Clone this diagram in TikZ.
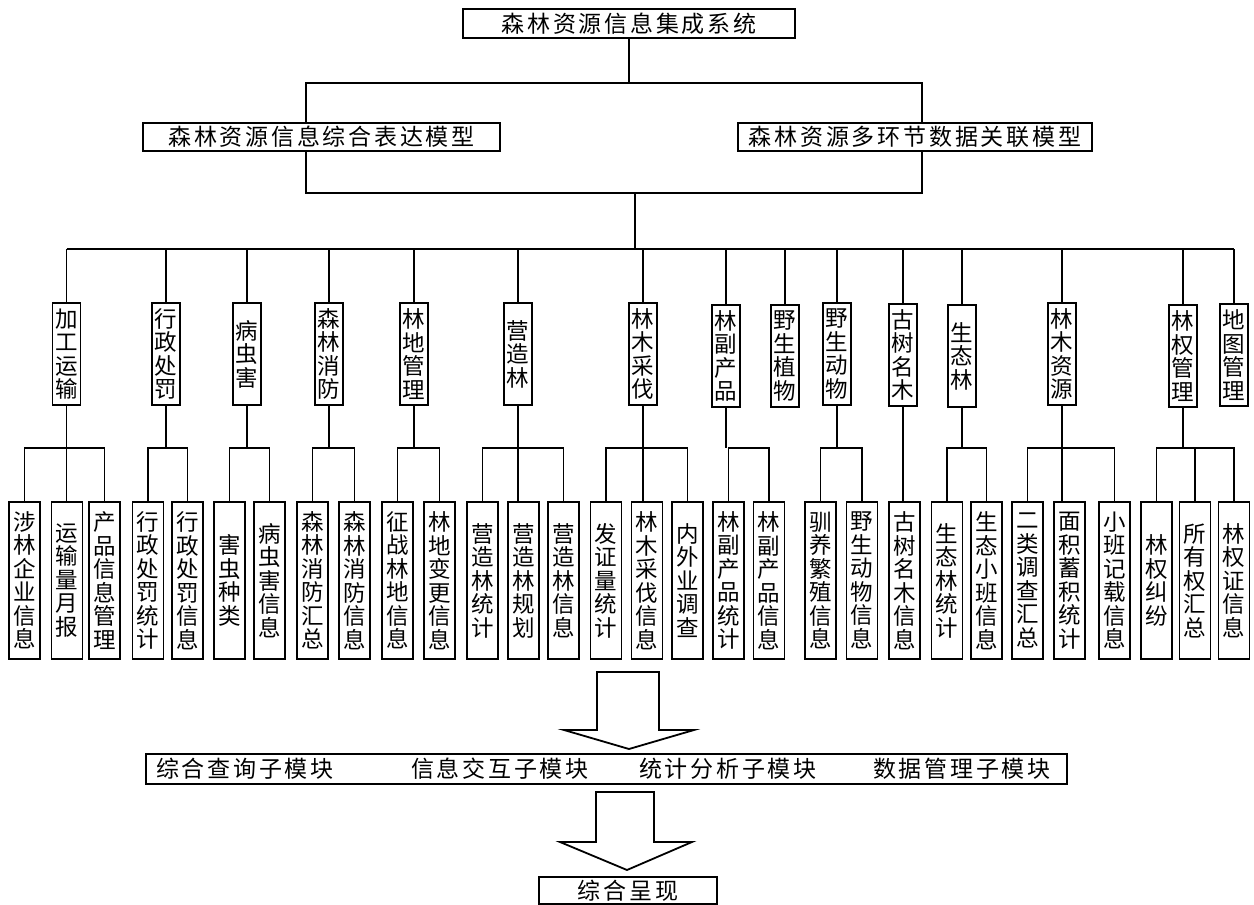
\documentclass[tikz,border=0pt]{standalone}
\usepackage{fontspec}
\usepackage{tikz}
\usetikzlibrary{calc}
\newfontfamily\cjk{Noto Sans CJK SC}
\newfontfamily\cjkw{Noto Sans CJK SC}[LetterSpace=12]
\tikzset{
  sysbox/.style={draw, line width=1.8pt, inner sep=0pt, minimum height=29pt,
    font=\cjkw\fontsize{23}{26}\selectfont},
  % 竖排框
  cat/.style={draw, line width=1.8pt, inner sep=0pt, align=center,
    minimum width=28pt, minimum height=102pt, font=\cjk\fontsize{22.5}{23.5}\selectfont},
  leaf/.style={cat, minimum width=31pt, minimum height=157pt},
  conn/.style={draw, line width=1.3pt},
  hollow/.style={draw, line width=1.8pt, fill=white, line join=miter},
  modtxt/.style={anchor=west, inner sep=0pt, font=\cjkw\fontsize{23}{26}\selectfont}
}
\begin{document}
\begin{tikzpicture}[x=1pt, y=-1pt]
  \useasboundingbox (0,0) rectangle (1254,905);

  % 顶层
  \node[sysbox, minimum width=332pt] (sys) at (629,23.5) {森林资源信息集成系统};
  \node[sysbox, minimum width=357pt, minimum height=28pt] (m1) at (321.5,137) {森林资源信息综合表达模型};
  \node[sysbox, minimum width=354pt, minimum height=28pt] (m2) at (915,137) {森林资源多环节数据关联模型};

  \coordinate (topbar) at (0,83);
  \coordinate (midbar) at (0,193);
  \coordinate (lvbar) at (0,249);
  \coordinate (lx) at (306,0);
  \coordinate (rx) at (922,0);
  \coordinate (hub) at (635,193);

  \draw[conn] (sys.south) -- (sys.south |- topbar);
  \draw[conn] (lx |- m1.north) |- (rx |- topbar) -- (rx |- m2.north);
  \draw[conn] (lx |- m1.south) |- (rx |- midbar) -- (rx |- m2.south);
  \draw[conn] (hub) -- (hub |- lvbar);

  % 第二层
  \node[cat] (jgys) at (66.5,354) {加\\工\\运\\输};
  \node[cat] (xzcf) at (166,354) {行\\政\\处\\罚};
  \node[cat] (bch) at (247,354) {病\\虫\\害};
  \node[cat] (sljf) at (329,354) {森\\林\\消\\防};
  \node[cat] (ldgl) at (414,354) {林\\地\\管\\理};
  \node[cat] (yzl) at (518,354) {营\\造\\林};
  \node[cat] (lmcf) at (643,354) {林\\木\\采\\伐};
  \node[cat] (lfcp) at (726,356) {林\\副\\产\\品};
  \node[cat] (yszw) at (785,356) {野\\生\\植\\物};
  \node[cat] (ysdw) at (837,354) {野\\生\\动\\物};
  \node[cat] (gsmm) at (903,355) {古\\树\\名\\木};
  \node[cat] (stl) at (962,356) {生\\态\\林};
  \node[cat] (lmzy) at (1062,354) {林\\木\\资\\源};
  \node[cat] (lqgl) at (1183,356) {林\\权\\管\\理};
  \node[cat] (dtgl) at (1234,355) {地\\图\\管\\理};

  \draw[conn] (jgys.north |- lvbar) -- (dtgl.north |- lvbar);
  \foreach \n in {jgys,xzcf,bch,sljf,ldgl,yzl,lmcf,lfcp,yszw,ysdw,gsmm,stl,lmzy,lqgl,dtgl}
    \draw[conn] (\n.north) -- (\n.north |- lvbar);

  % 第三层
  \node[leaf] (jg1) at (24.5,580.5) {涉\\林\\企\\业\\信\\息};
  \node[leaf] (jg2) at (67,580.5) {运\\输\\量\\月\\报};
  \node[leaf] (jg3) at (104.5,580.5) {产\\品\\信\\息\\管\\理};
  \node[leaf] (xz1) at (148,580.5) {行\\政\\处\\罚\\统\\计};
  \node[leaf] (xz2) at (187.5,580.5) {行\\政\\处\\罚\\信\\息};
  \node[leaf] (bc1) at (229.5,580.5) {害\\虫\\种\\类};
  \node[leaf] (bc2) at (269.5,580.5) {病\\虫\\害\\信\\息};
  \node[leaf] (xf1) at (312.5,580.5) {森\\林\\消\\防\\汇\\总};
  \node[leaf] (xf2) at (354.5,580.5) {森\\林\\消\\防\\信\\息};
  \node[leaf] (ld1) at (397.5,580.5) {征\\战\\林\\地\\信\\息};
  \node[leaf] (ld2) at (439.5,580.5) {林\\地\\变\\更\\信\\息};
  \node[leaf] (yz1) at (482.5,580.5) {营\\造\\林\\统\\计};
  \node[leaf] (yz2) at (523.5,580.5) {营\\造\\林\\规\\划};
  \node[leaf] (yz3) at (563.5,580.5) {营\\造\\林\\信\\息};
  \node[leaf] (cf1) at (606,580.5) {发\\证\\量\\统\\计};
  \node[leaf] (cf2) at (647,580.5) {林\\木\\采\\伐\\信\\息};
  \node[leaf] (cf3) at (687.5,580.5) {内\\外\\业\\调\\查};
  \node[leaf] (fc1) at (728.5,580.5) {林\\副\\产\\品\\统\\计};
  \node[leaf] (fc2) at (769,580.5) {林\\副\\产\\品\\信\\息};
  \node[leaf] (dw1) at (820.5,580.5) {驯\\养\\繁\\殖\\信\\息};
  \node[leaf] (dw2) at (862,580.5) {野\\生\\动\\物\\信\\息};
  \node[leaf] (gs1) at (904.5,580.5) {古\\树\\名\\木\\信\\息};
  \node[leaf] (st1) at (947,580.5) {生\\态\\林\\统\\计};
  \node[leaf] (st2) at (986.5,580.5) {生\\态\\小\\班\\信\\息};
  \node[leaf] (zy1) at (1027.5,580.5) {二\\类\\调\\查\\汇\\总};
  \node[leaf] (zy2) at (1069.5,580.5) {面\\积\\蓄\\积\\统\\计};
  \node[leaf] (zy3) at (1114.5,580.5) {小\\班\\记\\载\\信\\息};
  \node[leaf] (lq1) at (1156.5,580.5) {林\\权\\纠\\纷};
  \node[leaf] (lq2) at (1195,580.5) {所\\有\\权\\汇\\总};
  \node[leaf] (lq3) at (1234,580.5) {林\\权\\证\\信\\息};

  \coordinate (gbar) at (0,448);
  \foreach \p/\a/\b in {jgys/jg1/jg3, xzcf/xz1/xz2, bch/bc1/bc2, sljf/xf1/xf2,
      ldgl/ld1/ld2, yzl/yz1/yz3, lmcf/cf1/cf3, lfcp/fc1/fc2, ysdw/dw1/dw2,
      stl/st1/st2, lmzy/zy1/zy3, lqgl/lq1/lq3} {
    \draw[conn] (\p.south) -- (\p.south |- gbar);
    \draw[conn] (\a.north) |- (\b.north |- gbar) -- (\b.north);
  }
  % 中间分支直通
  \foreach \p/\c in {jgys/jg2, yzl/yz2, lmcf/cf2, lmzy/zy2, gsmm/gs1}
    \draw[conn] (\p.south) -- (\p.south |- \c.north);
  \draw[conn] (lq2.north) -- (lq2.north |- gbar);

  % 子模块与呈现
  \node[draw, line width=1.8pt, minimum width=921pt, minimum height=30pt] (mods) at (606.5,769) {};
  \node[modtxt] (q1) at (156,769) {综合查询子模块};
  \node[modtxt] (q2) at (411,769) {信息交互子模块};
  \node[modtxt] (q3) at (639,769) {统计分析子模块};
  \node[modtxt] (q4) at (873,769) {数据管理子模块};
  \node[sysbox, minimum width=178pt, minimum height=27pt] (show) at (628,890.5) {综合呈现};

  \coordinate (a1) at (629,749);
  \coordinate (a2) at (627,870);
  \draw[hollow] (a1) -- ++(-65,-19) -- ++(33,0) -- ++(0,-58) -- ++(62,0)
    -- ++(0,58) -- ++(35,0) -- cycle;
  \draw[hollow] (a2) -- ++(-67,-28) -- ++(36,0) -- ++(0,-50) -- ++(58,0)
    -- ++(0,50) -- ++(38,0) -- cycle;
\end{tikzpicture}
\end{document}
